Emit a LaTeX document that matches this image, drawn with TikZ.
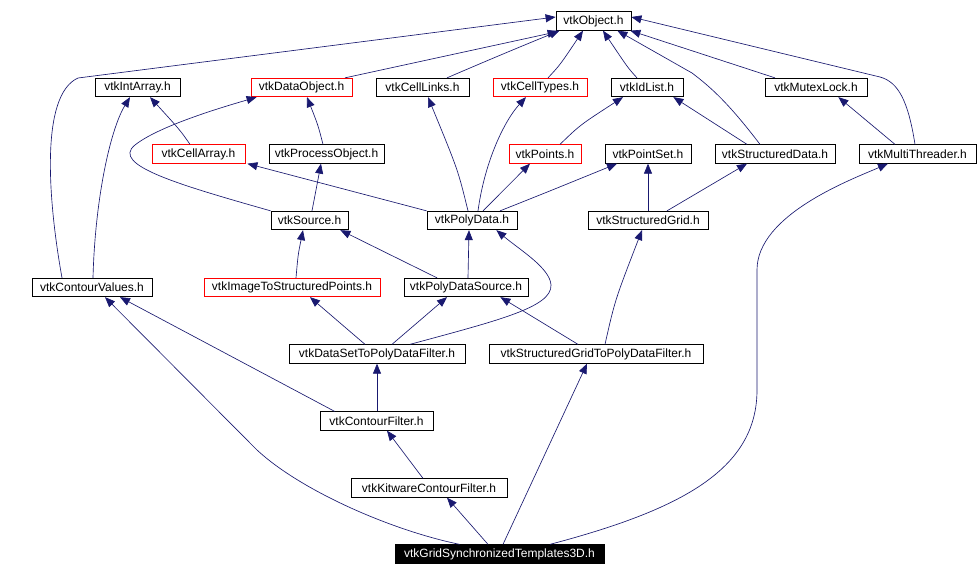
\documentclass[tikz,border=0pt]{standalone}
\usepackage{fontspec}
\setmainfont{Liberation Sans}
\usetikzlibrary{arrows.meta}
\definecolor{edgecol}{HTML}{191970}
\tikzset{
  hbox/.style={draw=black, line width=0.8pt, fill=white, inner sep=0pt, minimum height=18.5pt,
    font=\fontsize{12}{14}\selectfont, text=black},
  redbox/.style={hbox, draw=red},
  mainbox/.style={hbox, fill=black, text=white},
  dep/.style={draw=edgecol, line width=0.65pt, -{Triangle[length=10pt,width=8pt]}, color=edgecol},
}
\begin{document}
\begin{tikzpicture}[x=1pt,y=-1pt]
\useasboundingbox (0,0) rectangle (978,576);
\fill[white] (0,0) rectangle (978,576);

% nodes
\node[hbox, minimum width=75pt] (obj) at (593.5,21) {vtkObject.h};
\node[hbox, minimum width=85pt] (intarr) at (137.5,87.5) {vtkIntArray.h};
\node[redbox, minimum width=101pt] (dataobj) at (301.5,87.5) {vtkDataObject.h};
\node[hbox, minimum width=93pt] (celllinks) at (422.5,87.5) {vtkCellLinks.h};
\node[redbox, minimum width=94pt] (celltypes) at (540,87.5) {vtkCellTypes.h};
\node[hbox, minimum width=72pt] (idlist) at (647,87.5) {vtkIdList.h};
\node[hbox, minimum width=102pt] (mutex) at (816,87.5) {vtkMutexLock.h};
\node[redbox, minimum width=93pt] (cellarr) at (198.5,154) {vtkCellArray.h};
\node[hbox, minimum width=115pt] (procobj) at (326.5,154) {vtkProcessObject.h};
\node[redbox, minimum width=72pt] (points) at (545,154) {vtkPoints.h};
\node[hbox, minimum width=86pt] (pointset) at (648,154) {vtkPointSet.h};
\node[hbox, minimum width=120pt] (sdata) at (775,154) {vtkStructuredData.h};
\node[hbox, minimum width=117pt] (multi) at (917.5,154) {vtkMultiThreader.h};
\node[hbox, minimum width=77pt] (source) at (309.5,220.5) {vtkSource.h};
\node[hbox, minimum width=90pt] (polydata) at (472,220.5) {vtkPolyData.h};
\node[hbox, minimum width=120pt] (sgrid) at (648,220.5) {vtkStructuredGrid.h};
\node[hbox, minimum width=120pt] (cvalues) at (92,287.5) {vtkContourValues.h};
\node[redbox, minimum width=176pt] (imgsp) at (292,287.5) {vtkImageToStructuredPoints.h};
\node[hbox, minimum width=124pt] (pdsource) at (466,287.5) {vtkPolyDataSource.h};
\node[hbox, minimum width=176pt] (dstopd) at (377,354) {vtkDataSetToPolyDataFilter.h};
\node[hbox, minimum width=214pt] (sgtopd) at (596,354) {vtkStructuredGridToPolyDataFilter.h};
\node[hbox, minimum width=113pt] (cfilter) at (376.5,421) {vtkContourFilter.h};
\node[hbox, minimum width=156pt] (kcf) at (429,488) {vtkKitwareContourFilter.h};
\node[mainbox, minimum width=209pt] (grid) at (499.5,554) {vtkGridSynchronizedTemplates3D.h};

% edges to vtkObject
\draw[dep] ([xshift=-30pt]cvalues.north) .. controls (48,200) and (40,95) .. (78,78) -- ([yshift=4pt]obj.west);
\draw[dep] ([xshift=43.5pt]dataobj.north) -- ([yshift=-1pt,xshift=2pt]obj.south west);
\draw[dep] ([xshift=24.5pt]celllinks.north) .. controls (470,68) and (500,55) .. ([xshift=4pt]obj.south west);
\draw[dep] ([xshift=8pt]celltypes.north) .. controls (560,65) .. ([xshift=-10.5pt]obj.south);
\draw[dep] ([xshift=-10pt]idlist.north) .. controls (628,68) .. ([xshift=9.5pt]obj.south);
\draw[dep] ([xshift=-15pt]sdata.north) .. controls (730,105) and (712,88) .. (692,73) -- ([xshift=-14pt]obj.south east);
\draw[dep] ([xshift=-41pt]mutex.north) -- ([xshift=-1pt]obj.south east);
\draw[dep] ([xshift=-2.5pt]multi.north) .. controls (908,100) and (898,82) .. (880,77) -- ([yshift=4pt]obj.east);

% other edges
\draw[dep] ([xshift=1pt]cvalues.north) .. controls (95,200) and (110,130) .. ([xshift=-7.5pt]intarr.south);
\draw[dep] ([xshift=-8.5pt]cellarr.north) .. controls (180,130) .. ([xshift=12.5pt]intarr.south);
\draw[dep] (source.north west) .. controls (180,185) and (110,165) .. (135,145) .. controls (160,125) and (230,105) .. ([xshift=6pt]dataobj.south west);
\draw[dep] ([xshift=-3.5pt]procobj.north) .. controls (318,125) .. ([xshift=5.5pt]dataobj.south);
\draw[dep] (polydata.north west) -- ([xshift=2pt]cellarr.south east);
\draw[dep] ([xshift=2.5pt]source.north) .. controls (316,190) .. ([xshift=-5.5pt]procobj.south);
\draw[dep] ([xshift=-4pt]polydata.north) .. controls (458,170) .. ([xshift=5.5pt]celllinks.south);
\draw[dep] ([xshift=6pt]polydata.north) .. controls (485,160) and (505,120) .. ([xshift=-14pt]celltypes.south);
\draw[dep] ([xshift=15pt]points.north) .. controls (580,125) .. ([xshift=-24pt]idlist.south);
\draw[dep] ([xshift=-28pt]sdata.north) -- ([xshift=-10pt]idlist.south east);
\draw[dep] ([xshift=-22.5pt]multi.north) -- ([xshift=-29pt]mutex.south east);
\draw[dep] ([xshift=11pt]polydata.north) -- ([xshift=-15pt]points.south);
\draw[dep] ([xshift=28pt]polydata.north) .. controls (540,195) .. ([xshift=-31pt]pointset.south);
\draw[dep] (sgrid.north) -- (pointset.south);
\draw[dep] ([xshift=19pt]sgrid.north) -- ([xshift=-28pt]sdata.south);
\draw[dep] ([xshift=4pt]imgsp.north) .. controls (298,255) .. ([xshift=-6.5pt]source.south);
\draw[dep] ([xshift=-29pt]pdsource.north) -- ([xshift=-8pt]source.south east);
\draw[dep] ([xshift=2pt]pdsource.north) -- ([xshift=-3pt]polydata.south);
\draw[dep] ([xshift=33pt]dstopd.north) .. controls (500,320) and (552,307) .. (551,285) .. controls (550,268) and (520,250) .. ([xshift=-21pt]polydata.south east);
\draw[dep] ([xshift=-12pt]dstopd.north) -- ([xshift=18pt]imgsp.south);
\draw[dep] ([xshift=15pt]dstopd.north) -- ([xshift=-19pt]pdsource.south);
\draw[dep] ([xshift=-18pt]sgtopd.north) -- ([xshift=-28pt]pdsource.south east);
\draw[dep] ([xshift=9pt]sgtopd.north) .. controls (615,300) .. ([xshift=-6pt]sgrid.south);
\draw[dep] ([xshift=0.5pt]cfilter.north) -- ([xshift=0pt]dstopd.south);
\draw[dep] ([xshift=15pt]cfilter.north west) -- ([xshift=28pt]cvalues.south);
\draw[dep] ([xshift=-6pt]kcf.north) -- ([xshift=10.5pt]cfilter.south);
\draw[dep] ([xshift=65pt]grid.north west) .. controls (390,530) and (300,490) .. (257,450) -- ([xshift=13pt]cvalues.south);
\draw[dep] ([xshift=-11.5pt]grid.north) -- ([xshift=18pt]kcf.south);
\draw[dep] ([xshift=3.5pt]grid.north) -- ([xshift=-9pt]sgtopd.south);
\draw[dep] ([xshift=50.5pt]grid.north) .. controls (680,510) and (757,470) .. (757,390) -- (757,270) .. controls (757,215) and (850,180) .. ([xshift=-29.5pt]multi.south);
\end{tikzpicture}
\end{document}
